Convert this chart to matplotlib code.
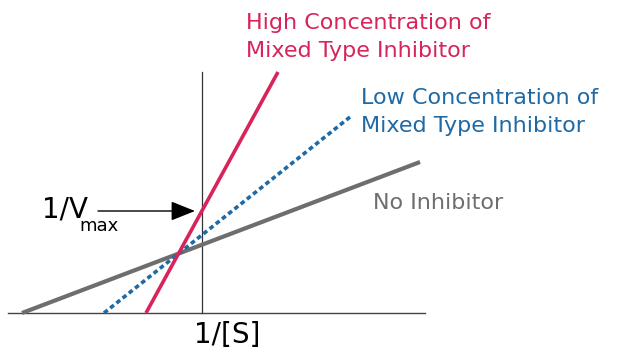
import matplotlib.pyplot as plt

plt.rcParams["font.family"] = ["DejaVu Sans"]

# Lineweaver-Burk lines (x = 1/[S], y = 1/v), endpoints
no_inh_x = [-1.80, 2.18]
no_inh_y = [0.00, 1.51]
low_inh_x = [-0.98, 1.48]
low_inh_y = [0.00, 1.96]
high_inh_x = [-0.56, 0.76]
high_inh_y = [0.00, 2.41]

vmax_recip = 1.02

RED = "#d8245a"
BLUE = "#1f6aa5"
GRAY = "#6e6e6e"

fig = plt.figure(figsize=(6.2, 3.6), dpi=100)
ax = fig.add_axes([0, 0, 1, 1])
ax.set_xlim(-2.02, 4.18)
ax.set_ylim(-0.47, 3.13)
ax.axis("off")

# axes
ax.plot([-1.94, 2.23], [0, 0], color="#444444", lw=1.0)
ax.plot([0, 0], [0, 2.41], color="#333333", lw=0.9)

ax.plot(no_inh_x, no_inh_y, color=GRAY, lw=3.0, solid_capstyle="butt")
ax.plot(low_inh_x, low_inh_y, color=BLUE, lw=2.6, linestyle=(0, (1.3, 0.9)))
ax.plot(high_inh_x, high_inh_y, color=RED, lw=2.6, solid_capstyle="butt")

ax.annotate("", xy=(-0.07, vmax_recip), xytext=(-1.04, vmax_recip),
            arrowprops=dict(arrowstyle="-|>,head_length=0.75,head_width=0.3",
                            color="black", lw=1.0, mutation_scale=20,
                            shrinkA=0, shrinkB=0))
ax.text(-1.60, vmax_recip + 0.01, "1/V", fontsize=20, ha="left", va="center")
ax.text(-1.23, vmax_recip - 0.15, "max", fontsize=13, ha="left", va="center")
ax.text(0.255, -0.22, "1/[S]", fontsize=20, ha="center", va="center")

ax.text(0.44, 2.76, "High Concentration of\nMixed Type Inhibitor", color=RED,
        fontsize=16, ha="left", va="center", linespacing=1.45)
ax.text(1.59, 2.01, "Low Concentration of\nMixed Type Inhibitor", color=BLUE,
        fontsize=16, ha="left", va="center", linespacing=1.45)
ax.text(1.71, 1.10, "No Inhibitor", color=GRAY, fontsize=16, ha="left", va="center")

fig.savefig("out.png", dpi=100)
